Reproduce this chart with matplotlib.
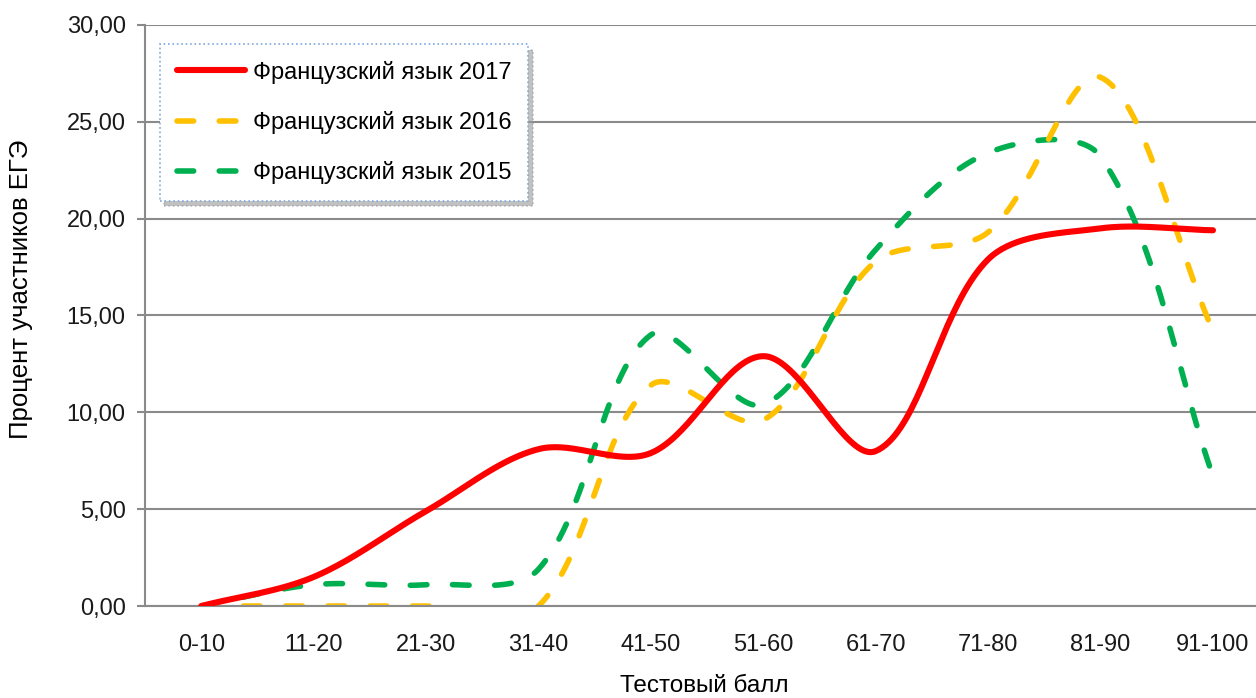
import numpy as np
import matplotlib
matplotlib.use('Agg')
import matplotlib.pyplot as plt
from matplotlib.ticker import FuncFormatter

plt.rcParams['font.family'] = ['Liberation Sans', 'DejaVu Sans']

# data
categories = ['0-10', '11-20', '21-30', '31-40', '41-50', '51-60', '61-70', '71-80', '81-90', '91-100']
fr_2017 = [0.0, 1.5, 4.9, 8.1, 7.9, 12.9, 8.0, 17.9, 19.5, 19.4]
fr_2016 = [0.0, 0.0, 0.0, 0.0, 11.4, 9.6, 17.8, 19.3, 27.3, 14.2]
fr_2015 = [0.0, 1.1, 1.1, 1.9, 14.0, 10.4, 18.4, 23.4, 23.2, 6.7]
labels = ['Французский язык 2017', 'Французский язык 2016', 'Французский язык 2015']
colors = ['#FF0000', '#FFC000', '#00B050']


def excel_smooth(xs, ys, sx=112.56, sy=19.37, n=40):
    # bezier smoothing similar to the "smoothed line" option in Excel
    P = np.column_stack([np.asarray(xs, float) * sx, np.asarray(ys, float) * sy])
    t = np.linspace(0, 1, n)[:, None]
    out = []
    for i in range(len(P) - 1):
        p0 = P[i - 1] if i > 0 else P[i]
        p1, p2 = P[i], P[i + 1]
        p3 = P[i + 2] if i + 2 < len(P) else P[i + 1]
        d01 = np.linalg.norm(p1 - p0)
        d12 = np.linalg.norm(p2 - p1)
        d23 = np.linalg.norm(p3 - p2)
        c1 = p1 + (p2 - p0) * d12 / (d01 + d12) / 3
        c2 = p2 - (p3 - p1) * d12 / (d12 + d23) / 3
        seg = ((1 - t) ** 3 * p1 + 3 * (1 - t) ** 2 * t * c1
               + 3 * (1 - t) * t ** 2 * c2 + t ** 3 * p2)
        out.append(seg if i == 0 else seg[1:])
    out = np.vstack(out)
    return out[:, 0] / sx, out[:, 1] / sy


fig = plt.figure(figsize=(12.56, 6.98), dpi=100)
ax = fig.add_axes([0.1155, 0.1318, 0.895, 0.8324])

x = np.arange(len(categories))
series = [fr_2017, fr_2016, fr_2015]
handles = []
for i, (vals, lab, col) in enumerate(zip(series, labels, colors)):
    sx, sy = excel_smooth(x, vals)
    if i == 0:
        ln, = ax.plot(sx, sy, color=col, lw=4.4, solid_capstyle='round', label=lab, zorder=3 - i)
    else:
        ln, = ax.plot(sx, sy, color=col, lw=4.0, dashes=(3.0, 4.6), dash_capstyle='round',
                      label=lab, zorder=3 - i)
    handles.append(ln)

ax.set_xlim(-0.5, len(categories) - 0.5)
ax.set_ylim(0, 30)
ax.set_yticks(np.arange(0, 31, 5))
ax.yaxis.set_major_formatter(FuncFormatter(lambda v, p: f'{v:.2f}'.replace('.', ',')))
ax.set_xticks(x)
ax.set_xticklabels(categories)

ax.grid(axis='y', color='#8a8a8a', lw=1.5)
ax.set_axisbelow(True)
for s in ['top', 'right']:
    ax.spines[s].set_visible(False)
for s in ['left', 'bottom']:
    ax.spines[s].set_color('#8a8a8a')
    ax.spines[s].set_linewidth(1.5)
ax.tick_params(axis='y', length=6, width=1.5, color='#8a8a8a', labelsize=17, pad=8, labelcolor='#1a1a1a')
ax.tick_params(axis='x', length=0, labelsize=17, pad=20, labelcolor='#1a1a1a')

# axis titles
ax.set_ylabel('Процент участников ЕГЭ', fontsize=18.5)
ax.yaxis.set_label_coords(-0.1, 0.545)
ax.set_xlabel('Тестовый балл', fontsize=17.5, va='baseline')
ax.xaxis.set_label_coords(0.4975, -0.1475)

leg = ax.legend(handles=handles, loc='upper left', bbox_to_anchor=(0.0133, 0.967),
                borderaxespad=0, fontsize=17, handlelength=2.9, handletextpad=0.35,
                labelspacing=1.15, borderpad=0.7, frameon=True, fancybox=False,
                shadow={'color': '#999999', 'alpha': 0.6, 'ox': 3, 'oy': -4})
frame = leg.get_frame()
frame.set_edgecolor('#7fa8e0')
frame.set_linestyle(':')
frame.set_linewidth(1.2)

fig.savefig('out.png', dpi=100)
